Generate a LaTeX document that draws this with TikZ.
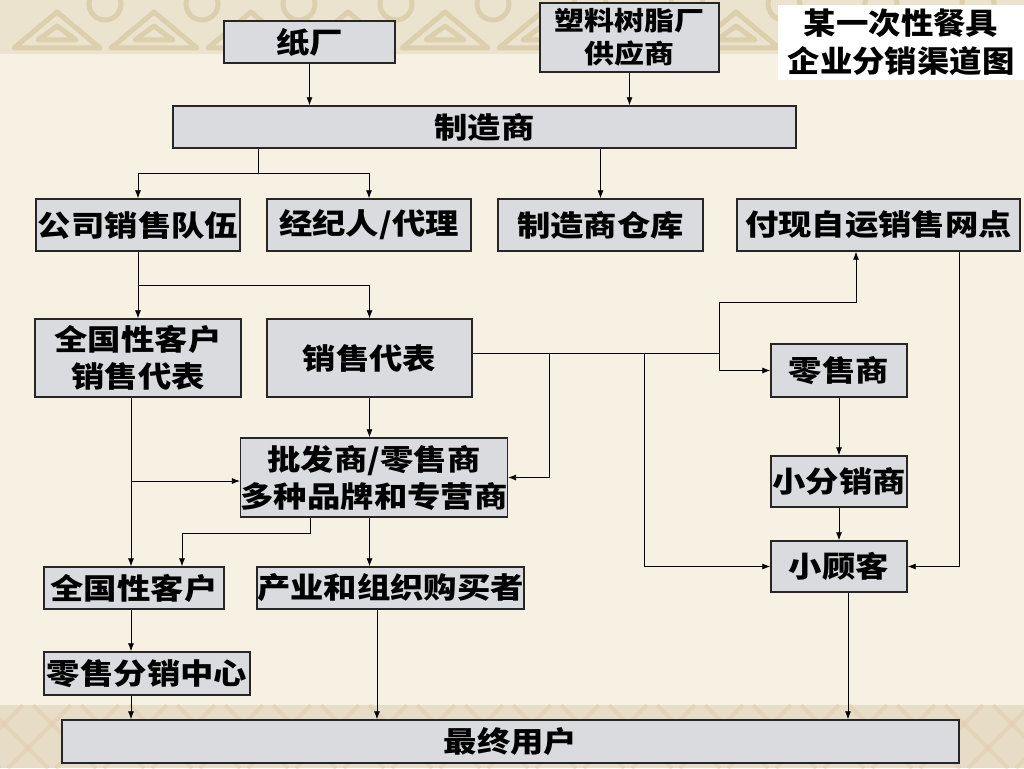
\documentclass[tikz,border=0pt]{standalone}
\usepackage{fontspec}
\usepackage{xcolor}
\usepackage{tikz}
\usetikzlibrary{arrows.meta}
\usetikzlibrary{positioning}
\newfontfamily\cjk[FakeStretch=1.15]{Noto Sans CJK SC}
\newfontfamily\cjktitle[FakeStretch=1.08]{Noto Sans CJK SC}
\definecolor{paper}{HTML}{F7F1E3}
\definecolor{band}{HTML}{DCCFAE}
\definecolor{marble}{HTML}{DADBDE}
\tikzset{
 box/.style={rectangle, draw=black!85, line width=1.4pt, fill=marble, inner sep=0pt, align=center,
  font=\cjk\bfseries\fontsize{29}{37}\selectfont},
 arr/.style={-{Latex[length=8pt,width=6pt]}, draw=black, line width=0.8pt},
 ln/.style={draw=black, line width=0.8pt}
}
\begin{document}
\begin{tikzpicture}[x=1pt, y=-1pt]
 \useasboundingbox (0,0) rectangle (1024,768);
 % background
 \fill[paper] (0,0) rectangle (1024,768);
 \fill[paper!60!band] (0,0) rectangle (1024,54);
 \foreach \i in {0,...,10} {
  \draw[band, line width=5pt, line join=round] (\i*97+14,48) -- (\i*97+57,12) -- (\i*97+100,48) -- cycle;
  \draw[band, line width=5pt, line join=round] (\i*97+38,40) -- (\i*97+57,26) -- (\i*97+76,40) -- cycle;
  \draw[band, line width=5pt] (\i*97+105,4) circle (16pt);
 }
 \fill[band!70] (0,705) rectangle (1024,768);
 \foreach \i in {0,...,22} {
  \draw[band!50!brown!60, line width=4pt, opacity=0.5] (\i*48-40,768) -- (\i*48+23,705);
  \draw[band!50!brown!60, line width=4pt, opacity=0.5] (\i*48,768) -- (\i*48-63,705);
 }
 % title
 \node[fill=white, inner sep=0pt, minimum width=246pt, minimum height=75pt, align=center,
  font=\cjktitle\bfseries\fontsize{30}{38}\selectfont] (title) at (901,42.5) {某一次性餐具\\企业分销渠道图};
 % nodes
 \node[box, minimum width=171pt, minimum height=42pt] (zhi) at (309.5,42) {纸厂};
 \node[box, minimum width=179pt, minimum height=69pt, font=\cjk\bfseries\fontsize{26}{33}\selectfont] (sul) at (629.5,37.5) {塑料树脂厂\\供应商};
 \node[box, minimum width=623pt, minimum height=42pt] (zzs) at (484.5,127) {制造商};
 \node[box, minimum width=204pt, minimum height=52pt] (gs) at (138,225) {公司销售队伍};
 \node[box, minimum width=204pt, minimum height=52pt] (jj) at (369,225) {经纪人/代理};
 \node[box, minimum width=205pt, minimum height=52pt] (ck) at (600.5,225) {制造商仓库};
 \node[box, minimum width=283pt, minimum height=52pt] (fx) at (878.5,225) {付现自运销售网点};
 \node[box, minimum width=206pt, minimum height=78pt] (qd) at (138,358) {全国性客户\\销售代表};
 \node[box, minimum width=205pt, minimum height=78pt] (xd) at (369.5,358) {销售代表};
 \node[box, minimum width=136pt, minimum height=53pt] (ls) at (839,370.5) {零售商};
 \node[box, minimum width=264pt, minimum height=79pt] (pf) at (374,477.5) {批发商/零售商\\多种品牌和专营商};
 \node[box, minimum width=136pt, minimum height=51pt] (xf) at (839,481.5) {小分销商};
 \node[box, minimum width=136pt, minimum height=51pt] (xg) at (839,566.5) {小顾客};
 \node[box, minimum width=180pt, minimum height=42pt] (qk) at (134,588) {全国性客户};
 \node[box, minimum width=265pt, minimum height=42pt] (cy) at (390.5,588) {产业和组织购买者};
 \node[box, minimum width=206pt, minimum height=43pt] (lf) at (147,673.5) {零售分销中心};
 \node[box, minimum width=897pt, minimum height=43pt] (zy) at (510.5,741.5) {最终用户};
 % supply side
 \draw[arr] (zhi.south) -- (zzs.north -| zhi.south);
 \draw[arr] (sul.south) -- (zzs.north -| sul.south);
 \coordinate (b1) at (258,173);
 \draw[ln] (zzs.south -| b1) -- (b1);
 \draw[arr] (b1) -| (gs.north);
 \draw[arr] (b1) -| (jj.north);
 \draw[arr] (zzs.south -| ck.north) -- (ck.north);
 \coordinate (b2) at (138,285);
 \draw[ln] (gs.south) -- (b2);
 \draw[arr] (b2) -- (qd.north);
 \draw[arr] (b2) -| (xd.north);
 % sales representatives
 \coordinate (j1) at (549,353);
 \coordinate (j2) at (644,353);
 \coordinate (j3) at (719,353);
 \coordinate (u) at (856,302);
 \draw[ln] (xd.east |- j1) -- (j3);
 \draw[arr] (j1) |- (pf.east);
 \draw[arr] (j2) |- (xg.west);
 \draw[arr] (j3) |- (ls.west);
 \draw[arr] (j3) |- (u) -- (u |- fx.south);
 \coordinate (r) at (959,567);
 \draw[arr] (fx.south -| r) |- (xg.east);
 \draw[arr] (ls) -- (xf);
 \draw[arr] (xf) -- (xg);
 \draw[arr] (xd.south) -- (xd.south |- pf.north);
 % national accounts
 \coordinate (c1) at (131,481);
 \draw[arr] (qd.south -| c1) -- (qk.north -| c1);
 \draw[arr] (c1) -- (c1 -| pf.west);
 \coordinate (c2) at (310,533);
 \coordinate (c3) at (182,533);
 \draw[arr] (pf.south -| c2) -- (c2) -- (c3) -- (c3 |- qk.north);
 \draw[arr] (pf.south -| xd.south) -- (cy.north -| xd.south);
 % end users
 \coordinate (c4) at (377,0);
 \coordinate (c5) at (848,0);
 \draw[arr] (qk.south -| c1) -- (lf.north -| c1);
 \draw[arr] (lf.south -| c1) -- (zy.north -| c1);
 \draw[arr] (cy.south -| c4) -- (zy.north -| c4);
 \draw[arr] (xg.south -| c5) -- (zy.north -| c5);
\end{tikzpicture}
\end{document}
